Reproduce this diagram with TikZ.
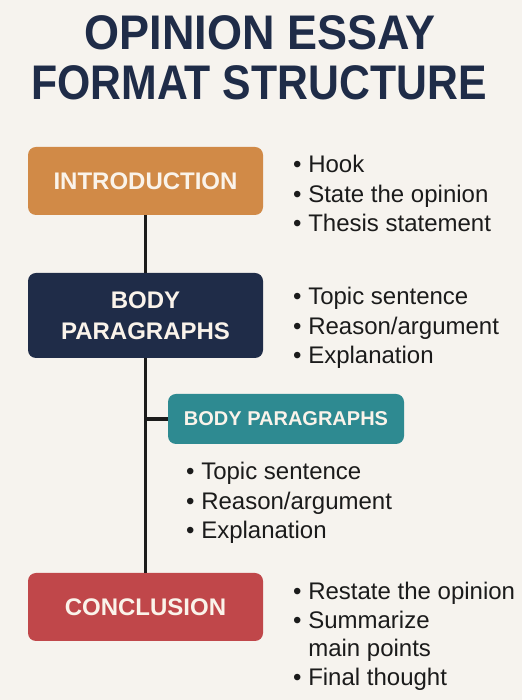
\documentclass[tikz,border=0pt]{standalone}
\usepackage{fontspec}
\setmainfont{Liberation Sans}
\usetikzlibrary{positioning}

\definecolor{paper}{HTML}{F6F3EE}
\definecolor{navy}{HTML}{1F2C48}
\definecolor{introcol}{HTML}{D18A47}
\definecolor{tealcol}{HTML}{2E8A91}
\definecolor{conccol}{HTML}{C0474A}
\definecolor{ink}{HTML}{1B1B1B}
\definecolor{boxtext}{HTML}{FAF3EA}

\begin{document}
\begin{tikzpicture}[x=1pt,y=1pt,
		box/.style={rounded corners=8pt, minimum width=235pt, inner sep=0pt, align=center, text=boxtext, font=\bfseries\fontsize{24}{31}\selectfont},
		list/.style={anchor=north west, inner sep=0pt, align=left, text=ink, font=\fontsize{24}{29.5}\selectfont},
		title/.style={text=navy, transform shape, yscale=1.08, font=\bfseries\fontsize{45}{50}\selectfont}]
		\fill[paper] (0,0) rectangle (522,700);
		\useasboundingbox (0,0) rectangle (522,700);

		\draw (260,667) node [title] (title1) {OPINION ESSAY};
		\draw (259,617) node [title, xscale=0.95] (title2) {FORMAT STRUCTURE};

		\draw (145.5,519) node [box, fill=introcol, minimum height=68pt] (intro) {INTRODUCTION};
		\draw (145.5,384.5) node [box, fill=navy, minimum height=85pt] (body) {BODY\\PARAGRAPHS};
		\draw (286,281) node [box, fill=tealcol, minimum width=236pt, minimum height=50pt, font=\bfseries\fontsize{20}{24}\selectfont] (sub) {BODY PARAGRAPHS};
		\draw (145.5,93) node [box, fill=conccol, minimum height=68pt] (concl) {CONCLUSION};

		\draw (293,545) node [list] (introlist) {\textbullet\ Hook\\ \textbullet\ State the opinion\\ \textbullet\ Thesis statement};
		\draw (293,413) node [list] (bodylist) {\textbullet\ Topic sentence\\ \textbullet\ Reason/argument\\ \textbullet\ Explanation};
		\draw (186,238) node [list] (sublist) {\textbullet\ Topic sentence\\ \textbullet\ Reason/argument\\ \textbullet\ Explanation};
		\draw (293,118) node [list, font=\fontsize{24}{28.5}\selectfont] (conclist) {\textbullet\ Restate the opinion\\ \textbullet\ Summarize\\ \phantom{\textbullet\ }main points\\ \textbullet\ Final thought};

		\draw[line width=3.5pt, ink]
			(intro) edge (body)
			(body) edge (concl)
			(sub.west) edge (sub.west -| body.south)
		;
	\end{tikzpicture}
\end{document}
